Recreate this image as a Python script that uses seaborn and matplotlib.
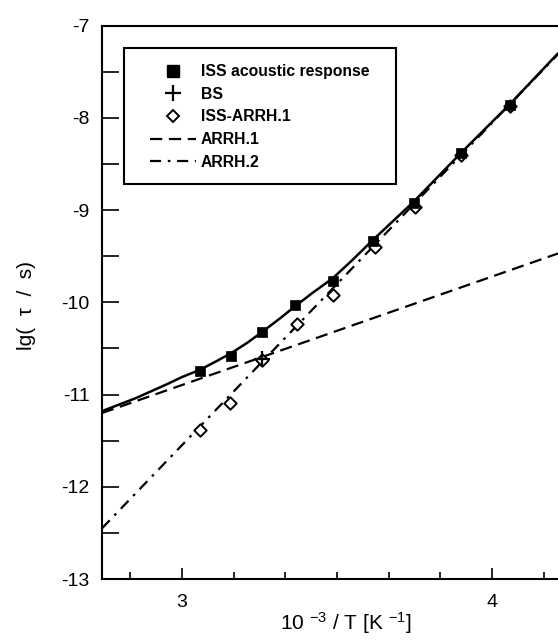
import matplotlib
matplotlib.use("Agg")
import matplotlib.pyplot as plt
from matplotlib.lines import Line2D
from matplotlib.patches import Rectangle
from matplotlib.ticker import MultipleLocator
import seaborn as sns

# ---- data ----
iss_x = [3.059, 3.159, 3.259, 3.366, 3.486, 3.617, 3.750, 3.900, 4.058]
iss_y = [-10.74, -10.58, -10.32, -10.03, -9.77, -9.33, -8.92, -8.38, -7.86]

diff_x = [3.059, 3.156, 3.259, 3.372, 3.488, 3.622, 3.752, 3.900, 4.058]
diff_y = [-11.38, -11.09, -10.63, -10.24, -9.92, -9.40, -8.97, -8.40, -7.87]

bs_x = [3.259]
bs_y = [-10.61]

fit_x = [2.742, 2.85, 2.95, 3.00, 3.059, 3.11, 3.159, 3.21, 3.259, 3.31, 3.366, 3.42,
         3.486, 3.55, 3.617, 3.75, 3.90, 4.058, 4.213]
fit_y = [-11.18, -11.04, -10.89, -10.81, -10.73, -10.64, -10.55, -10.44, -10.32, -10.19,
         -10.04, -9.90, -9.74, -9.54, -9.32, -8.90, -8.38, -7.85, -7.30]

arrh1_x = [2.742, 4.213]
arrh1_y = [-11.20, -9.47]

arrh2_x = [2.742, 4.213]
arrh2_y = [-12.45, -7.31]

legend_labels = ["ISS acoustic response", "BS", "ISS-ARRH.1", "ARRH.1", "ARRH.2"]
xlabel = "10 $^{-3}$ / T [K $^{-1}$]"
ylabel = "lg(  τ  /  s)"

# ---- style ----
sns.set_theme(style="white")
plt.rcParams["font.family"] = ["Liberation Sans", "DejaVu Sans"]
plt.rcParams["mathtext.fontset"] = "custom"
plt.rcParams["mathtext.rm"] = "Liberation Sans"
plt.rcParams["mathtext.it"] = "Liberation Sans:italic"
plt.rcParams["mathtext.bf"] = "Liberation Sans:bold"
plt.rcParams["mathtext.default"] = "regular"
plt.rcParams["axes.unicode_minus"] = False
plt.rcParams["text.color"] = "black"
plt.rcParams["axes.labelcolor"] = "black"
plt.rcParams["xtick.color"] = "black"
plt.rcParams["ytick.color"] = "black"

fig = plt.figure(figsize=(5.58, 6.41), dpi=100)
W, H = 558, 641
left, right, top, bottom = 102, 558, 25.7, 579
aw, ah = right - left, bottom - top
ax = fig.add_axes([left / W, (H - bottom) / H, aw / W, ah / H])

lw = 1.6
dash1 = (0, (5.5, 3))
dash2 = (0, (5, 3, 1.2, 3))
sns.lineplot(x=arrh1_x, y=arrh1_y, ax=ax, color="black", lw=lw,
             linestyle=dash1, sort=False, estimator=None)
sns.lineplot(x=arrh2_x, y=arrh2_y, ax=ax, color="black", lw=lw,
             linestyle=dash2, sort=False, estimator=None)
sns.lineplot(x=fit_x, y=fit_y, ax=ax, color="black", lw=1.8, sort=False, estimator=None)

sns.scatterplot(x=diff_x, y=diff_y, ax=ax, marker="D", s=40, facecolor="white",
                edgecolor="black", linewidth=1.4, zorder=4)
sns.scatterplot(x=iss_x, y=iss_y, ax=ax, marker="s", s=62, color="black",
                edgecolor="black", linewidth=0.5, zorder=5)
ax.plot(bs_x, bs_y, marker="+", ms=12, mew=1.6, color="black", linestyle="none", zorder=6)

ax.set_xlim(2.742, 4.213)
ax.set_ylim(-13, -7)
ax.xaxis.set_major_locator(MultipleLocator(1))
ax.xaxis.set_minor_locator(MultipleLocator(1 / 6))
ax.yaxis.set_major_locator(MultipleLocator(1))
ax.yaxis.set_minor_locator(MultipleLocator(0.5))
ax.tick_params(axis="both", which="both", direction="in", labelsize=14,
               colors="black", labelcolor="black", width=1.2)
ax.tick_params(axis="x", which="major", length=8, pad=11)
ax.tick_params(axis="x", which="minor", length=5)
ax.tick_params(axis="y", which="both", length=12, pad=9)
ax.yaxis.set_ticks_position("left")
ax.xaxis.set_ticks_position("bottom")

for name in ["left", "bottom", "top"]:
    ax.spines[name].set_color("black")
    ax.spines[name].set_linewidth(1.5)
ax.spines["right"].set_visible(False)

ax.set_xlabel(xlabel, fontsize=15, color="black")
ax.xaxis.set_label_coords((346 - left) / aw, -(623 - bottom) / ah)
ax.xaxis.label.set_va("center")
ax.set_ylabel(ylabel, fontsize=15, color="black")
ax.yaxis.set_label_coords(-(left - 26) / aw, 1 - (305 - top) / ah)
ax.yaxis.label.set_va("center")

handles = [
    Line2D([], [], marker="s", ms=8, color="black", linestyle="none"),
    Line2D([], [], marker="+", ms=12, mew=1.6, color="black", linestyle="none"),
    Line2D([], [], marker="D", ms=6, mfc="white", mec="black", mew=1.4, linestyle="none"),
    Line2D([], [], color="black", lw=lw, linestyle=dash1),
    Line2D([], [], color="black", lw=lw, linestyle=dash2),
]
leg = ax.legend(handles, legend_labels, loc="upper left",
                bbox_to_anchor=((150 - left) / aw, 1 - (64 - top) / ah),
                borderaxespad=0, borderpad=0, frameon=False,
                prop={"size": 11.3, "weight": "bold"}, labelcolor="black",
                handlelength=2.9, handletextpad=0.35, labelspacing=0.49)
ax.add_patch(Rectangle(((124 - left) / aw, 1 - (184 - top) / ah),
                       (396 - 124) / aw, (184 - 48) / ah, transform=ax.transAxes,
                       fill=True, facecolor="white", edgecolor="black", lw=1.5, zorder=7))
leg.set_zorder(8)

fig.savefig("out.png", dpi=100)
